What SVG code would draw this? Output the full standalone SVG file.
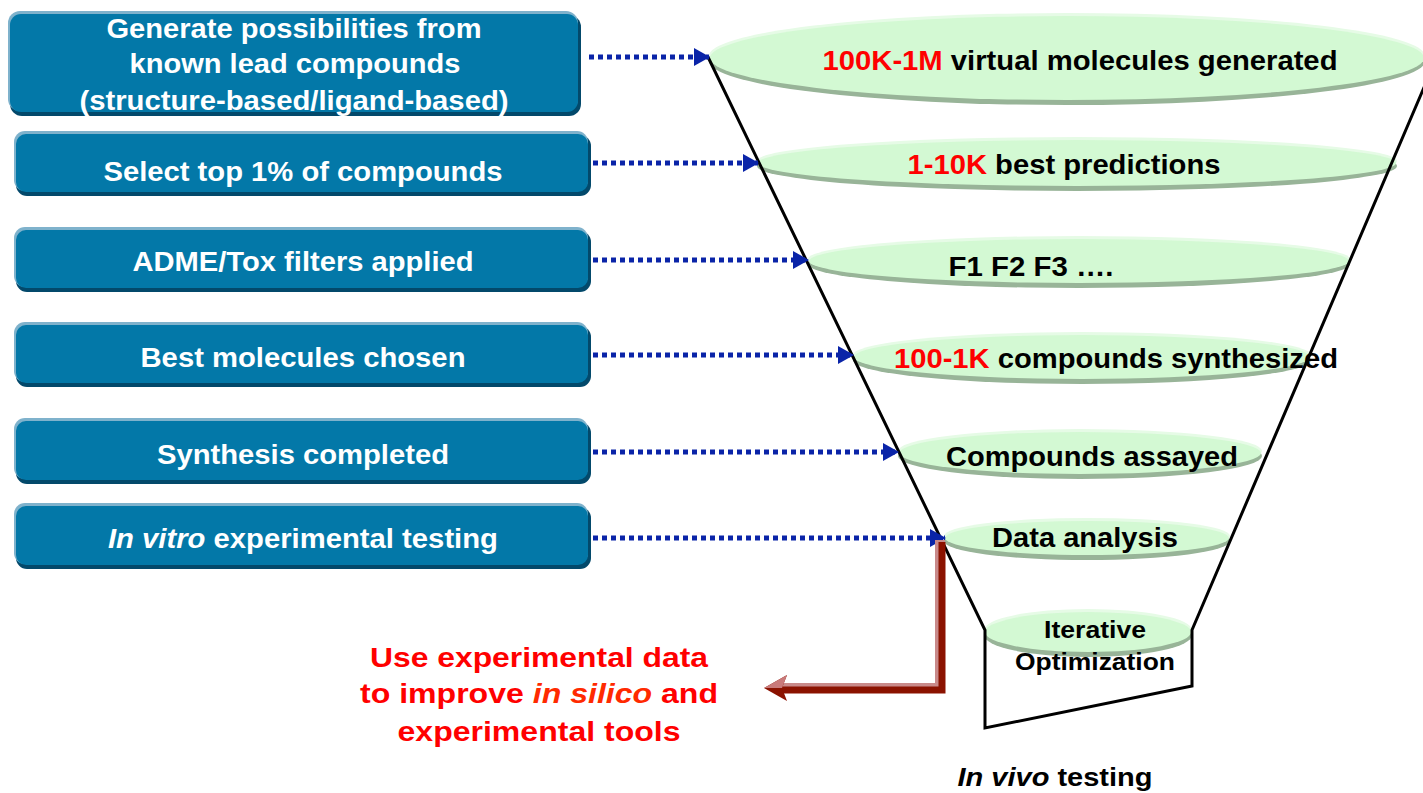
<svg xmlns="http://www.w3.org/2000/svg" width="1423" height="793" viewBox="0 0 1423 793">
<style>
.bl{fill:#7fb2cc}
.bd{fill:#03496b}
.bm{fill:#0378a8}
.bt{font-family:"Liberation Sans",Arial,sans-serif;font-weight:bold;font-size:28px;fill:#ffffff;text-anchor:middle}
.es{fill:#98b498}
.eh{fill:#e6fbe6}
.em{fill:#d3f9d3}
.et{font-family:"Liberation Sans",Arial,sans-serif;font-weight:bold;font-size:27px;fill:#000000;text-anchor:middle}
.red{fill:#ff0000}
.dot{fill:none;stroke:#0a24a8;stroke-width:5;stroke-dasharray:5 4}
.fun{fill:none;stroke:#000000;stroke-width:3;stroke-linejoin:miter}
.rt{font-family:"Liberation Sans",Arial,sans-serif;font-weight:bold;font-size:28px;fill:#ff0000;text-anchor:middle}
</style>
<defs>
<marker id="ah" markerWidth="16" markerHeight="18" refX="15" refY="9" orient="auto" markerUnits="userSpaceOnUse">
<path d="M0,0 L16,9 L0,18 Z" fill="#0a24a8"/>
</marker>
</defs>
<rect width="1423" height="793" fill="#ffffff"/>

<g id="e1">
<ellipse class="es" cx="1067" cy="61" rx="358" ry="44"/>
<ellipse class="eh" cx="1067" cy="56" rx="358" ry="43"/>
<ellipse class="em" cx="1067" cy="58" rx="357" ry="42"/>
<text class="et" x="1080" y="70" textLength="515" lengthAdjust="spacingAndGlyphs"><tspan class="red">100K-1M</tspan> virtual molecules generated</text>
</g>
<g id="e2">
<ellipse class="es" cx="1077" cy="166" rx="320" ry="25"/>
<ellipse class="eh" cx="1077" cy="161" rx="320" ry="24"/>
<ellipse class="em" cx="1077" cy="163" rx="319" ry="23"/>
<text class="et" x="1064" y="174" textLength="313" lengthAdjust="spacingAndGlyphs"><tspan class="red">1-10K</tspan> best predictions</text>
</g>
<g id="e3">
<ellipse class="es" cx="1079" cy="264" rx="271" ry="24"/>
<ellipse class="eh" cx="1079" cy="259" rx="271" ry="23"/>
<ellipse class="em" cx="1079" cy="261" rx="270" ry="22"/>
<text class="et" x="1031" y="276" textLength="165" lengthAdjust="spacingAndGlyphs">F1 F2 F3 ….</text>
</g>
<g id="e4">
<ellipse class="es" cx="1082" cy="360" rx="229" ry="24"/>
<ellipse class="eh" cx="1082" cy="355" rx="229" ry="23"/>
<ellipse class="em" cx="1082" cy="357" rx="228" ry="22"/>
<text class="et" x="1116" y="368" textLength="444" lengthAdjust="spacingAndGlyphs"><tspan class="red">100-1K</tspan> compounds synthesized</text>
</g>
<g id="e5">
<ellipse class="es" cx="1080" cy="456" rx="182" ry="23"/>
<ellipse class="eh" cx="1080" cy="451" rx="182" ry="22"/>
<ellipse class="em" cx="1080" cy="453" rx="181" ry="21"/>
<text class="et" x="1092" y="466" textLength="292" lengthAdjust="spacingAndGlyphs">Compounds assayed</text>
</g>
<g id="e6">
<ellipse class="es" cx="1087" cy="541" rx="143" ry="19"/>
<ellipse class="eh" cx="1087" cy="536" rx="143" ry="18"/>
<ellipse class="em" cx="1087" cy="538" rx="142" ry="17"/>
<text class="et" x="1085" y="547" textLength="186" lengthAdjust="spacingAndGlyphs">Data analysis</text>
</g>
<g id="e7">
<ellipse class="es" cx="1088" cy="635" rx="104" ry="22"/>
<ellipse class="eh" cx="1088" cy="630" rx="104" ry="21"/>
<ellipse class="em" cx="1088" cy="632" rx="103" ry="20"/>
<text class="et" x="1095" y="638" style="font-size:23px" textLength="102" lengthAdjust="spacingAndGlyphs">Iterative</text>
<text class="et" x="1095" y="670" style="font-size:23px" textLength="160" lengthAdjust="spacingAndGlyphs">Optimization</text>
</g>

<g id="funnel">
<path class="fun" d="M708,57 L985,630 L985,728 L1192,686 L1192,630 L1440,50"/>
</g>

<g id="b1">
<rect class="bd" x="10" y="15" width="571" height="101" rx="12"/>
<rect class="bl" x="8" y="11" width="570" height="100" rx="12"/>
<rect class="bm" x="10" y="14" width="568" height="98" rx="11"/>
<text class="bt" x="294" y="38" textLength="375" lengthAdjust="spacingAndGlyphs">Generate possibilities from</text>
<text class="bt" x="295" y="73" textLength="331" lengthAdjust="spacingAndGlyphs">known lead compounds</text>
<text class="bt" x="294" y="110" textLength="429" lengthAdjust="spacingAndGlyphs">(structure-based/ligand-based)</text>
</g>
<g id="b2">
<rect class="bd" x="16" y="135" width="575" height="61" rx="11"/>
<rect class="bl" x="14" y="131" width="574" height="60" rx="11"/>
<rect class="bm" x="16" y="134" width="572" height="58" rx="10"/>
<text class="bt" x="303" y="181" textLength="399" lengthAdjust="spacingAndGlyphs">Select top 1% of compounds</text>
</g>
<g id="b3">
<rect class="bd" x="16" y="231" width="575" height="61" rx="11"/>
<rect class="bl" x="14" y="227" width="574" height="60" rx="11"/>
<rect class="bm" x="16" y="230" width="572" height="58" rx="10"/>
<text class="bt" x="303" y="271" textLength="341" lengthAdjust="spacingAndGlyphs">ADME/Tox filters applied</text>
</g>
<g id="b4">
<rect class="bd" x="16" y="326" width="575" height="61" rx="11"/>
<rect class="bl" x="14" y="322" width="574" height="60" rx="11"/>
<rect class="bm" x="16" y="325" width="572" height="58" rx="10"/>
<text class="bt" x="303" y="367" textLength="325" lengthAdjust="spacingAndGlyphs">Best molecules chosen</text>
</g>
<g id="b5">
<rect class="bd" x="16" y="422" width="575" height="62" rx="11"/>
<rect class="bl" x="14" y="418" width="574" height="61" rx="11"/>
<rect class="bm" x="16" y="421" width="572" height="59" rx="10"/>
<text class="bt" x="303" y="464" textLength="292" lengthAdjust="spacingAndGlyphs">Synthesis completed</text>
</g>
<g id="b6">
<rect class="bd" x="16" y="507" width="575" height="62" rx="11"/>
<rect class="bl" x="14" y="503" width="574" height="61" rx="11"/>
<rect class="bm" x="16" y="506" width="572" height="59" rx="10"/>
<text class="bt" x="303" y="548" textLength="390" lengthAdjust="spacingAndGlyphs"><tspan font-style="italic">In vitro</tspan> experimental testing</text>
</g>

<g id="connectors">
<line class="dot" x1="589" y1="57" x2="709" y2="57" marker-end="url(#ah)"/>
<line class="dot" x1="593" y1="163" x2="758" y2="163" marker-end="url(#ah)"/>
<line class="dot" x1="593" y1="260" x2="808" y2="260" marker-end="url(#ah)"/>
<line class="dot" x1="593" y1="355" x2="853" y2="355" marker-end="url(#ah)"/>
<line class="dot" x1="593" y1="452" x2="898" y2="452" marker-end="url(#ah)"/>
<line class="dot" x1="593" y1="538" x2="945" y2="538" marker-end="url(#ah)"/>
<g id="feedback">
<path d="M940,540 L940,688 L777,688" fill="none" stroke="#c98a8a" stroke-width="10"/>
<path d="M942,542 L942,690 L779,690" fill="none" stroke="#8b1200" stroke-width="7"/>
<path d="M787,675 L764,688 L787,701 L782,688 Z" fill="#8b1200"/>
<path d="M787,675 L764,688 L782,688 Z" fill="#c97a7a"/>
</g>
</g>

<g id="labels">
<text class="rt" x="539" y="667" textLength="338" lengthAdjust="spacingAndGlyphs">Use experimental data</text>
<text class="rt" x="539" y="703" textLength="358" lengthAdjust="spacingAndGlyphs">to improve <tspan font-style="italic" fill="#ff2a00">in silico</tspan> and</text>
<text class="rt" x="539" y="741" textLength="283" lengthAdjust="spacingAndGlyphs">experimental tools</text>
<text x="1055" y="786" font-family="Liberation Sans,Arial,sans-serif" font-weight="bold" font-size="25" text-anchor="middle" textLength="195" lengthAdjust="spacingAndGlyphs"><tspan font-style="italic">In vivo</tspan> testing</text>
</g>
</svg>
